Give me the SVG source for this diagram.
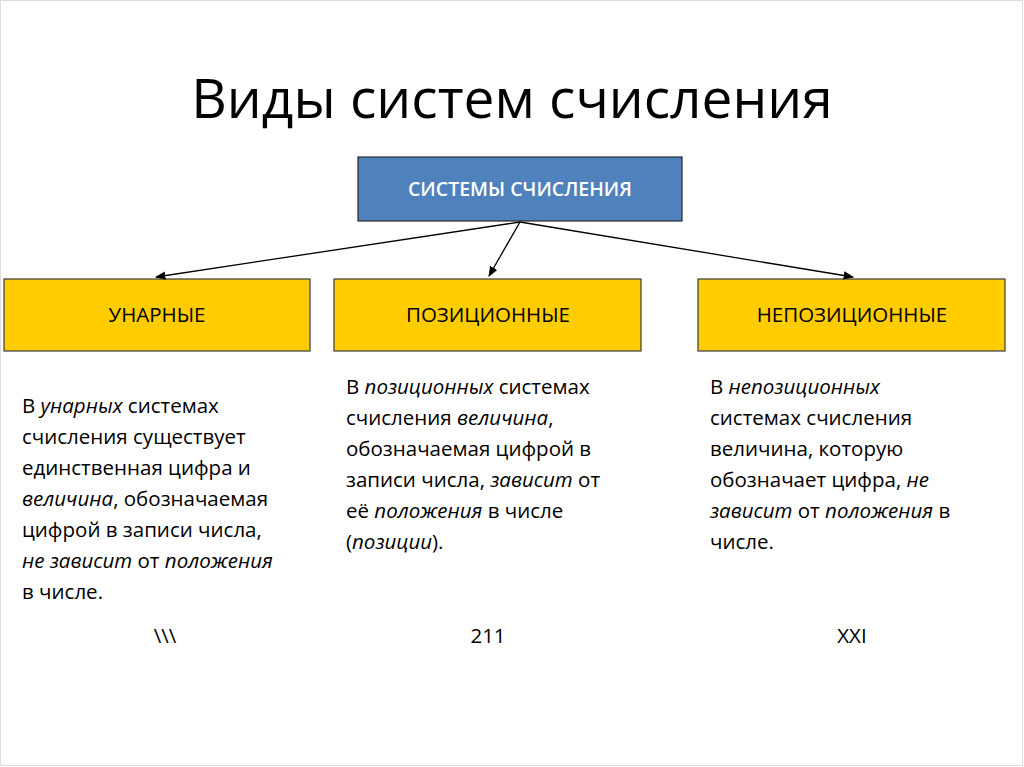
<svg xmlns="http://www.w3.org/2000/svg" width="1024" height="767" viewBox="0 0 1024 767">
<style>
text{font-family:"Open Sans","Liberation Sans",sans-serif;fill:#000}
.y{fill:#FFCC00;stroke:#3a3a3a;stroke-width:1.2}
.l{font-size:20.5px;text-anchor:middle}
.b{font-size:20.5px}
.c{stroke:#000;stroke-width:1.3;fill:none;marker-end:url(#a)}
</style>
<defs><marker id="a" viewBox="0 0 10 10" refX="9" refY="5" markerWidth="8" markerHeight="8" orient="auto"><path d="M0,1 L10,5 L0,9 z" fill="#000"/></marker></defs>
<rect width="1024" height="767" fill="#fff"/>
<rect x="0.5" y="0.5" width="1022" height="765" fill="none" stroke="#ddd"/>
<text x="512" y="118" font-size="55" text-anchor="middle">Виды систем счисления</text>
<g id="root"><rect x="358" y="157" width="324" height="64" fill="#4F81BD" stroke="#2a2a2a" stroke-width="1.2"/><text x="520" y="196" class="l" style="fill:#fff;font-size:19.5px;font-weight:600">СИСТЕМЫ СЧИСЛЕНИЯ</text></g>
<g id="unary"><rect class="y" x="4" y="279" width="306" height="72"/><text class="l" x="157" y="322">УНАРНЫЕ</text></g>
<g id="pos"><rect class="y" x="334" y="279" width="307" height="72"/><text class="l" x="488" y="322">ПОЗИЦИОННЫЕ</text></g>
<g id="nonpos"><rect class="y" x="698" y="279" width="307" height="72"/><text class="l" x="852" y="322">НЕПОЗИЦИОННЫЕ</text></g>
<g id="connectors">
<line class="c" x1="520" y1="222" x2="156" y2="277"/>
<line class="c" x1="520" y1="222" x2="489" y2="276"/>
<line class="c" x1="520" y1="222" x2="853" y2="277"/>
</g>
<g>
<text class="b" x="22" y="413">В <tspan font-style="italic">унарных</tspan> системах</text>
<text class="b" x="22" y="444">счисления существует</text>
<text class="b" x="22" y="475">единственная цифра и</text>
<text class="b" x="22" y="506"><tspan font-style="italic">величина</tspan>, обозначаемая</text>
<text class="b" x="22" y="537">цифрой в записи числа,</text>
<text class="b" x="22" y="568"><tspan font-style="italic">не зависит</tspan> от <tspan font-style="italic">положения</tspan></text>
<text class="b" x="22" y="599">в числе.</text>
<text class="b" x="346" y="394">В <tspan font-style="italic">позиционных</tspan> системах</text>
<text class="b" x="346" y="425">счисления <tspan font-style="italic">величина</tspan>,</text>
<text class="b" x="346" y="456">обозначаемая цифрой в</text>
<text class="b" x="346" y="487">записи числа, <tspan font-style="italic">зависит</tspan> от</text>
<text class="b" x="346" y="518">её <tspan font-style="italic">положения</tspan> в числе</text>
<text class="b" x="346" y="549">(<tspan font-style="italic">позиции</tspan>).</text>
<text class="b" x="710" y="394">В <tspan font-style="italic">непозиционных</tspan></text>
<text class="b" x="710" y="425">системах счисления</text>
<text class="b" x="710" y="456">величина, которую</text>
<text class="b" x="710" y="487">обозначает цифра, <tspan font-style="italic">не</tspan></text>
<text class="b" x="710" y="518"><tspan font-style="italic">зависит</tspan> от <tspan font-style="italic">положения</tspan> в</text>
<text class="b" x="710" y="549">числе.</text>
<text class="l" x="165" y="643">\\\</text>
<text class="l" x="488" y="643">211</text>
<text class="l" x="852" y="643">XXI</text>
</g>
</svg>
